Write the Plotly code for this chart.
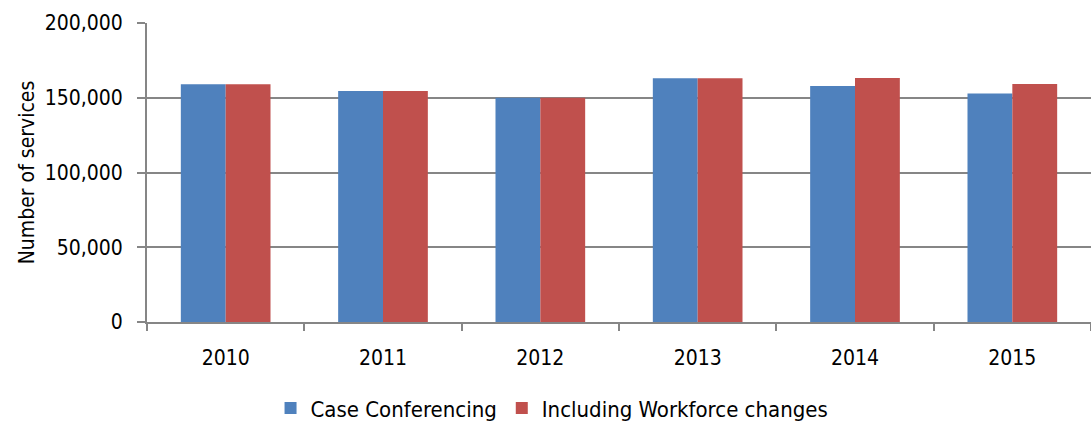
import plotly.graph_objects as go

years = ["2010", "2011", "2012", "2013", "2014", "2015"]
case_conferencing = [159000, 154500, 150000, 163000, 157800, 152800]
including_workforce = [159000, 154500, 150000, 163000, 163200, 159200]

FONT = "DejaVu Sans Condensed, Liberation Sans Narrow, Arial Narrow, sans-serif"

fig = go.Figure()
fig.add_trace(go.Bar(x=years, y=case_conferencing, name="Case Conferencing",
                     marker=dict(color="#4F81BD", line=dict(width=0))))
fig.add_trace(go.Bar(x=years, y=including_workforce, name="Including Workforce changes",
                     marker=dict(color="#C0504D", line=dict(width=0))))

fig.update_layout(
    width=1091, height=423,
    margin=dict(l=147, r=0, t=23, b=101),
    paper_bgcolor="white", plot_bgcolor="white",
    barmode="group", bargap=0.43, bargroupgap=0,
    font=dict(family=FONT, size=21, color="#000000"),
    legend=dict(orientation="h", xref="container", yref="container",
                x=0.506, xanchor="center", y=0.035, yanchor="middle",
                font=dict(size=22), itemsizing="constant", traceorder="normal",
                itemwidth=30),
    showlegend=True,
)
fig.update_xaxes(
    type="category", showline=True, linecolor="#868686", linewidth=2,
    ticks="outside", tickson="boundaries", ticklen=7, tickcolor="#868686", tickwidth=2,
    showgrid=False, tickfont=dict(size=21), ticklabelstandoff=16, automargin=False,
)
fig.update_yaxes(
    range=[0, 200000], tickvals=[0, 50000, 100000, 150000, 200000],
    tickformat=",d", showline=True, linecolor="#868686", linewidth=2,
    ticks="outside", ticklen=8, tickcolor="#868686", tickwidth=2,
    showgrid=True, gridcolor="#868686", gridwidth=2, zeroline=False,
    title=dict(text="Number of services", font=dict(size=21), standoff=4),
    tickfont=dict(size=21), ticklabelstandoff=10, automargin=False,
)

fig.write_html("out.html", post_script="document.body.style.margin='0';",
               config={"displayModeBar": False})
